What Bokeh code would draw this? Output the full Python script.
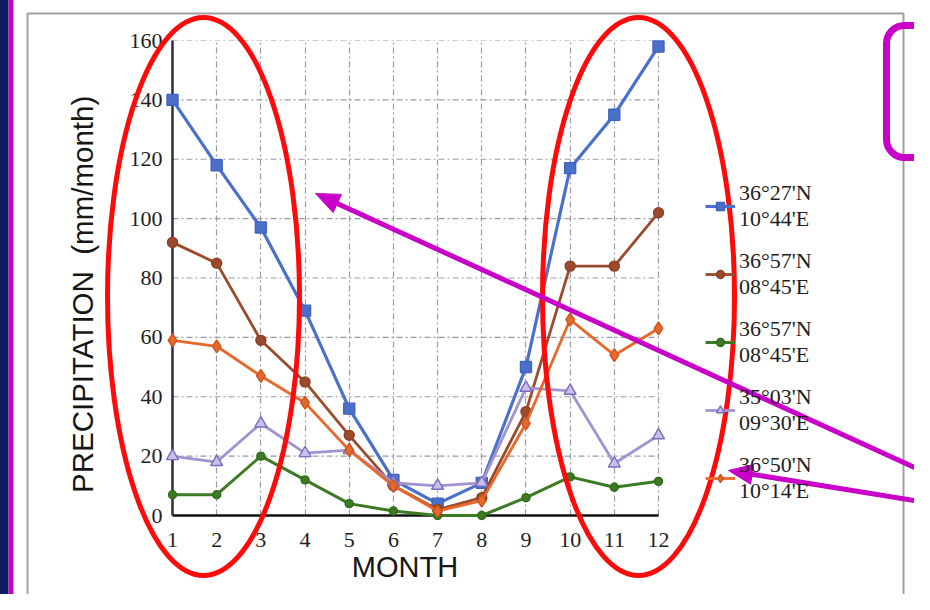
import math
from bokeh.plotting import figure
from bokeh.models import Range1d, FixedTicker, Legend, LegendItem
from bokeh.core.properties import value
from bokeh.embed import file_html
from bokeh.resources import INLINE

# ---------------- data ----------------
months = [1, 2, 3, 4, 5, 6, 7, 8, 9, 10, 11, 12]
y_ticks = [0, 20, 40, 60, 80, 100, 120, 140, 160]
x_title = "MONTH"
y_title = "PRECIPITATION\u00a0\u00a0(mm/month)"

station_labels = [
    "36°27'N\n10°44'E",
    "36°57'N\n08°45'E",
    "36°57'N\n08°45'E",
    "35°03'N\n09°30'E",
    "36°50'N\n10°14'E",
]
blue_vals = [140, 118, 97, 69, 36, 12, 4, 11, 50, 117, 135, 158]
brown_vals = [92, 85, 59, 45, 27, 10, 2, 6, 35, 84, 84, 102]
green_vals = [7, 7, 20, 12, 4, 1.5, 0, 0, 6, 13, 9.5, 11.5]
purple_vals = [20, 18, 31, 21, 22, 11, 10, 11, 43, 42, 17.5, 27]
orange_vals = [59, 57, 47, 38, 22, 10, 1.5, 5, 31, 66, 54, 63]

# ---------------- geometry (image pixels) ----------------
W, H = 914, 594
FX0, FX1, FY0, FY1 = 172.0, 658.0, 515.0, 40.0     # x=1, x=12, y=0, y=160
PX_PER_X = (FX1 - FX0) / (months[-1] - months[0])
PX_PER_Y = (FY0 - FY1) / (y_ticks[-1] - y_ticks[0])
def dx(X):
    return months[0] + (X - FX0) / PX_PER_X
def dy(Y):
    return y_ticks[0] + (FY0 - Y) / PX_PER_Y

# frame reaches the right edge so the legend and decorations are not clipped
p = figure(width=W, height=H, x_range=Range1d(months[0], dx(W)),
           y_range=Range1d(y_ticks[0], y_ticks[-1]),
           output_backend="svg", toolbar_location=None,
           min_border_left=int(FX0), min_border_right=0,
           min_border_top=int(FY1), min_border_bottom=H - int(FY0),
           background_fill_color="white", border_fill_color="white",
           outline_line_color=None)

SERIF = "Liberation Serif"
SANS = "Liberation Sans"

p.xaxis.ticker = FixedTicker(ticks=months)
p.yaxis.ticker = FixedTicker(ticks=y_ticks)
p.xaxis.bounds = (months[0], months[-1])
for ax in (p.xaxis, p.yaxis):
    ax.major_tick_line_color = None
    ax.minor_tick_line_color = None
    ax.major_tick_out = 0
    ax.major_tick_in = 0
    ax.minor_tick_out = 0
    ax.minor_tick_in = 0
    ax.major_label_text_font = SERIF
    ax.major_label_text_font_size = "22px"
    ax.major_label_text_color = "#1e1e1e"
    ax.axis_label_text_font = SANS
    ax.axis_label_text_font_style = "normal"
    ax.axis_label_text_color = "#161616"
    ax.axis_line_width = 2.5

p.xaxis.axis_line_color = "#111111"
p.yaxis.axis_line_color = "#2c2c3c"
p.xaxis.major_label_standoff = 17
p.yaxis.major_label_standoff = 10
p.yaxis.axis_label = y_title + "\u00a0" * 4
p.yaxis.axis_label_text_font_size = "29.5px"
p.yaxis.axis_label_standoff = 28

# x-axis title centred under the month span (the frame is wider than the axis)
p.text(x=[dx(404.5)], y=[dy(566)], text=[x_title], text_font=value(SANS),
       text_font_size="29px", text_align="center", text_baseline="middle",
       text_color="#161616", level="overlay")

GRID_COL = "#9a9aa8"
GRID_DASH = "6 3 2 3"
p.xgrid.grid_line_color = GRID_COL
p.xgrid.grid_line_width = 1.2
p.xgrid.grid_line_dash = GRID_DASH
p.ygrid.visible = False
# horizontal grid lines limited to the month span
p.segment(x0=[months[0]] * len(y_ticks), x1=[months[-1]] * len(y_ticks),
          y0=y_ticks, y1=y_ticks, line_color=GRID_COL, line_width=1.2,
          line_dash=GRID_DASH, level="underlay")

# ---------------- series ----------------
series = [
    (blue_vals, "#4a70c9", "#3f64c0", "square", 11, 3.2),
    (brown_vals, "#9c4a2c", "#8a3f24", "circle", 10, 2.8),
    (green_vals, "#3c7a24", "#2f6a1c", "circle", 8, 3.0),
    (purple_vals, "#a292d2", "#7c6cbc", "triangle", 12, 2.8),
    (orange_vals, "#e8682c", "#c9551f", "diamond", 13, 2.8),
]
items = []
for (vals, col, edge, mk, sz, lw), lab in zip(series, station_labels):
    ln = p.line(months, vals, line_color=col, line_width=lw, level="overlay")
    fill = "#c8c0ea" if mk == "triangle" else col
    sc = p.scatter(months, vals, marker=mk, size=sz, fill_color=fill,
                   line_color=edge, line_width=1.4, level="overlay")
    items.append(LegendItem(label=lab, renderers=[ln, sc]))

legend = Legend(items=items, location=(533, 11), margin=0, padding=0,
                spacing=16, glyph_width=30, glyph_height=20, label_standoff=4,
                label_text_font=SERIF, label_text_font_size="22px",
                label_text_line_height=1.2, label_text_color="#1e1e1e",
                background_fill_alpha=0, border_line_color=None)
p.add_layout(legend, "center")

# ---------------- screenshot decorations ----------------
PURPLE = "#c800c8"
NAVY = "#0b1d5c"
# outer frame of the pasted chart
p.quad(left=[dx(27)], right=[dx(903)], top=[dy(13)], bottom=[dy(597)],
       fill_color=None, line_color="#a0a0a0", line_width=2, level="overlay")
# page edge strips
p.quad(left=[dx(-5)], right=[dx(8)], top=[dy(-5)], bottom=[dy(620)],
       fill_color=NAVY, line_color=None, level="overlay")
p.quad(left=[dx(8)], right=[dx(13)], top=[dy(-5)], bottom=[dy(620)],
       fill_color=PURPLE, line_color=None, level="overlay")
# rounded purple box at top right
p.quad(left=[dx(886)], right=[dx(975)], top=[dy(25)], bottom=[dy(157)],
       fill_color=None, line_color=PURPLE, line_width=7, border_radius=18,
       level="overlay")
# red ellipses
p.ellipse(x=[dx(203), dx(638)], y=[dy(296), dy(296)], width=192, height=558,
          width_units="screen", height_units="screen", fill_color=None,
          line_color="#ff0a0a", line_width=5, level="overlay")

# purple arrows: shaft + head
arrows = [(940, 479, 315, 193), (945, 505, 728, 470)]
HEAD_L, HEAD_W = 24, 20
sx0, sy0, sx1, sy1, hxs, hys = [], [], [], [], [], []
for (xs, ys, xe, ye) in arrows:
    L = math.hypot(xe - xs, ye - ys)
    ux, uy = (xe - xs) / L, (ye - ys) / L
    bx, by = xe - ux * HEAD_L, ye - uy * HEAD_L
    sx0.append(dx(xs)); sy0.append(dy(ys))
    sx1.append(dx(bx + ux * 2)); sy1.append(dy(by + uy * 2))
    px, py = -uy, ux
    hxs.append([dx(xe), dx(bx + px * HEAD_W / 2), dx(bx - px * HEAD_W / 2)])
    hys.append([dy(ye), dy(by + py * HEAD_W / 2), dy(by - py * HEAD_W / 2)])
p.segment(x0=sx0, y0=sy0, x1=sx1, y1=sy1, line_color=PURPLE, line_width=5,
          level="overlay")
p.patches(xs=hxs, ys=hys, fill_color=PURPLE, line_color=PURPLE, line_width=1,
          level="overlay")

open("out.html", "w").write(file_html(p, INLINE))
